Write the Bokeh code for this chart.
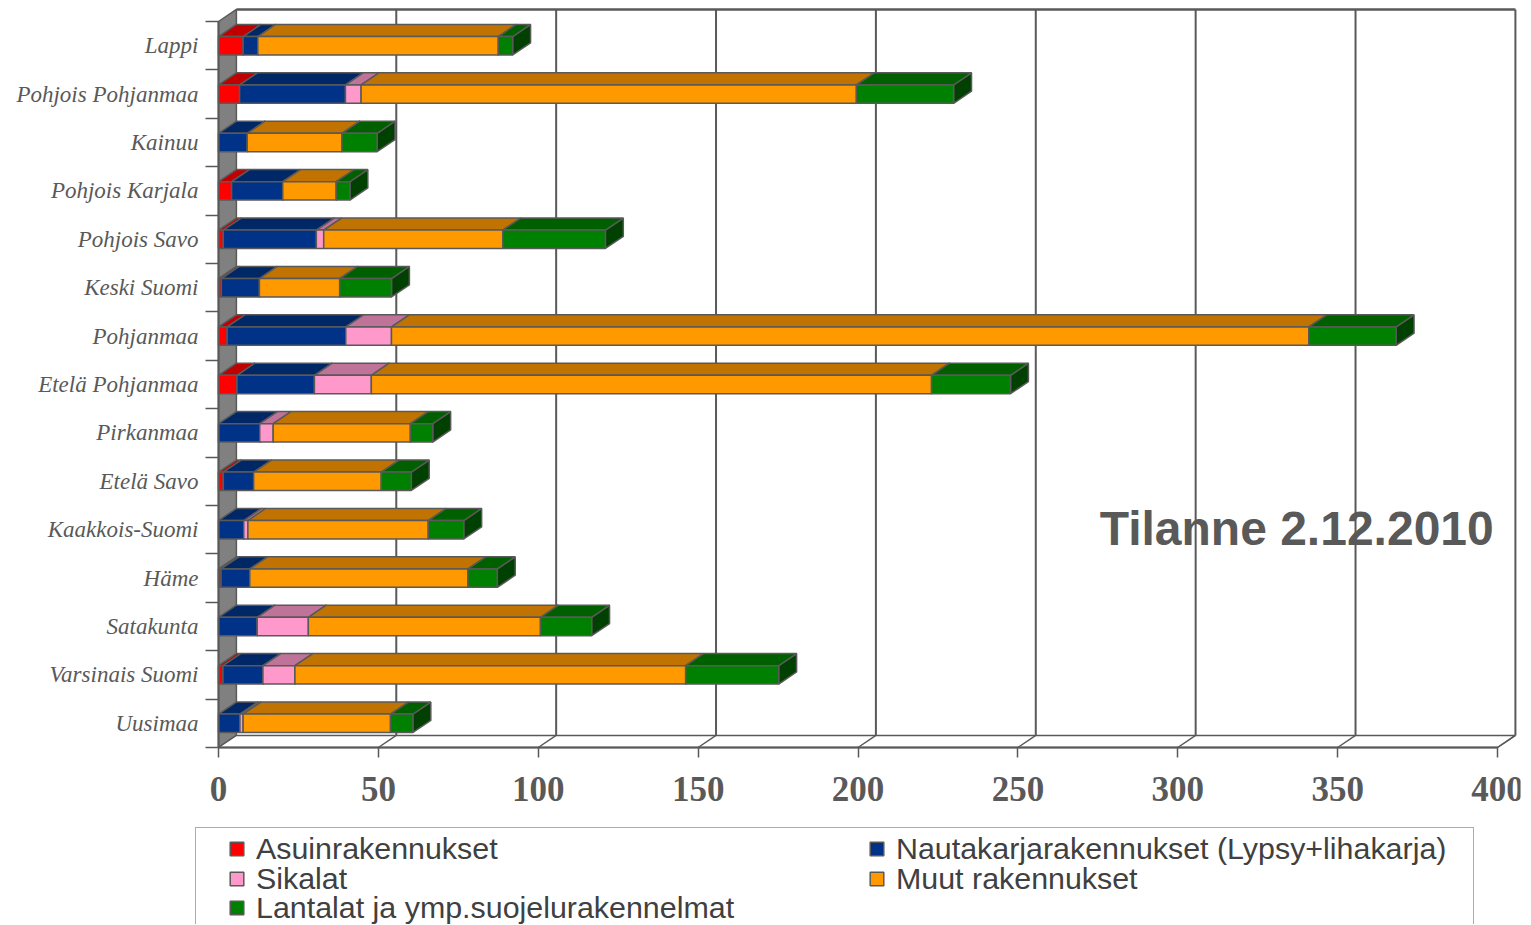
import numpy as np
from bokeh.plotting import figure
from bokeh.models import Range1d, FixedTicker, Label, Legend, LegendItem
from bokeh.embed import file_html
from bokeh.resources import INLINE

# ---------------- data ----------------
categories = ["Lappi", "Pohjois Pohjanmaa", "Kainuu", "Pohjois Karjala", "Pohjois Savo",
              "Keski Suomi", "Pohjanmaa", "Etelä Pohjanmaa", "Pirkanmaa", "Etelä Savo",
              "Kaakkois-Suomi", "Häme", "Satakunta", "Varsinais Suomi", "Uusimaa"]
series_names = ["Asuinrakennukset", "Nautakarjarakennukset (Lypsy+lihakarja)", "Sikalat",
                "Muut rakennukset", "Lantalat ja ymp.suojelurakennelmat"]
asuin = [7.7, 6.6, 0, 4.1, 1.5, 0.9, 2.7, 5.8, 0, 1.5, 0, 0.8, 0, 1.4, 0]
nauta = [4.6, 33.1, 9.0, 16.0, 29.1, 11.9, 37.1, 24.2, 12.9, 9.5, 7.9, 9.0, 12.1, 12.5, 6.7]
sika = [0, 4.9, 0, 0, 2.3, 0, 14.3, 17.8, 4.2, 0, 1.3, 0, 16.0, 10.0, 1.0]
muut = [75.2, 154.9, 29.6, 16.7, 56.0, 25.1, 286.9, 175.2, 42.9, 39.9, 56.4, 68.2, 72.6, 122.2, 46.1]
lanta = [4.5, 30.4, 11.0, 4.3, 32.1, 16.2, 27.3, 24.7, 7.0, 9.4, 11.1, 9.2, 16.0, 29.1, 7.0]
x_ticks = [0, 50, 100, 150, 200, 250, 300, 350, 400]
title_text = "Tilanne 2.12.2010"

# ---------------- style ----------------
front_col = ["#FF0000", "#003388", "#FF99CC", "#FF9900", "#008000"]
top_col = ["#C00000", "#002766", "#C07399", "#C07300", "#006000"]
side_col = ["#800000", "#001A44", "#804D66", "#804D00", "#004000"]
OUT = "#595959"
DX = 5.6      # depth offset (x units)
DY = 0.25     # depth offset (category units)
H = 0.38      # bar thickness
n = len(categories)
xmax = x_ticks[-1]

W, HGT = 1528, 924
PX_X = 3.1975   # pixels per x unit
PX_Y = 48.4     # pixels per category
X0, Y0 = 218, 747   # pixel position of the origin

p = figure(width=W, height=HGT,
           x_range=Range1d(-X0 / PX_X, (W - 8 - X0) / PX_X),
           y_range=Range1d(-(HGT - Y0) / PX_Y, Y0 / PX_Y),
           output_backend="svg", toolbar_location=None,
           min_border_left=0, min_border_right=8, min_border_top=0, min_border_bottom=0)
p.outline_line_color = None
p.grid.visible = False
p.background_fill_color = "white"
p.border_fill_color = "white"

# title text (under the gridlines)
p.add_layout(Label(x=337.2, y=4.52, text=title_text, text_font="Liberation Sans",
                   text_font_style="bold", text_font_size="48px", text_color="#595959",
                   text_align="center", text_baseline="middle", level="underlay"))

# ---------------- 3D frame ----------------
p.patch([0, DX, DX, 0], [0, DY, n + DY, n], fill_color="#808080", line_color=OUT, line_width=1.5)
p.patch([0, xmax, xmax + DX, DX], [0, 0, DY, DY], fill_color="white", line_color=OUT, line_width=1.5)
gx = [t + DX for t in x_ticks[1:]]
p.segment(x0=gx, y0=[DY] * len(gx), x1=gx, y1=[n + DY] * len(gx), line_color=OUT, line_width=2)
p.segment(x0=[DX], y0=[n + DY], x1=[xmax + DX], y1=[n + DY], line_color=OUT, line_width=2.5)
p.segment(x0=x_ticks[1:], y0=[0] * len(gx), x1=gx, y1=[DY] * len(gx), line_color=OUT, line_width=1.5)

# ---------------- bars ----------------
centers = np.array([n - k - 0.5 for k in range(n)])
series = [asuin, nauta, sika, muut, lanta]
cum = np.zeros(n)
front_renderers = []
for s, vals in enumerate(series):
    v = np.array(vals, dtype=float)
    left = cum.copy()
    right = cum + v
    cum = right
    m = v > 0
    l, r, c = left[m], right[m], centers[m]
    b, t = c - H / 2, c + H / 2
    rxs = [[ri, ri + DX, ri + DX, ri] for ri in r]
    rys = [[bi, bi + DY, ti + DY, ti] for bi, ti in zip(b, t)]
    p.patches(rxs, rys, fill_color=side_col[s], line_color=OUT, line_width=1.5)
    txs = [[li, ri, ri + DX, li + DX] for li, ri in zip(l, r)]
    tys = [[ti, ti, ti + DY, ti + DY] for ti in t]
    p.patches(txs, tys, fill_color=top_col[s], line_color=OUT, line_width=1.5)
    fr = p.quad(left=l, right=r, bottom=b, top=t, fill_color=front_col[s],
                line_color=OUT, line_width=1.5)
    front_renderers.append(fr)

# ---------------- axes (placed inside the frame at the origin) ----------------
xa = p.xaxis[0]
xa.fixed_location = 0
xa.ticker = FixedTicker(ticks=x_ticks)
xa.bounds = (0, xmax)
xa.axis_line_color = OUT
xa.axis_line_width = 2
xa.major_tick_out = 10
xa.major_tick_in = 0
xa.major_tick_line_color = OUT
xa.major_tick_line_width = 1.5
xa.minor_tick_line_color = None
xa.major_label_text_font = "Liberation Serif"
xa.major_label_text_font_style = "bold"
xa.major_label_text_font_size = "35px"
xa.major_label_text_color = "#595959"
xa.major_label_standoff = 19

ya = p.yaxis[0]
ya.fixed_location = 0
ya.ticker = FixedTicker(ticks=list(centers), minor_ticks=list(range(n + 1)))
ya.major_label_overrides = {float(cv): name for cv, name in zip(centers, categories)}
ya.bounds = (0, n)
ya.axis_line_color = OUT
ya.axis_line_width = 2
ya.major_tick_out = 0
ya.major_tick_in = 0
ya.minor_tick_out = 13
ya.minor_tick_in = 0
ya.minor_tick_line_color = OUT
ya.minor_tick_line_width = 1.5
ya.major_label_text_font = "Liberation Serif"
ya.major_label_text_font_style = "italic"
ya.major_label_text_font_size = "23px"
ya.major_label_text_color = "#595959"
ya.major_label_standoff = 7

# ---------------- legend ----------------
dummy = p.scatter(x=[], y=[], size=1, fill_alpha=0, line_alpha=0)
box = Legend(items=[LegendItem(label=" ", renderers=[dummy])], location=(195, -6),
             padding=0, margin=0, glyph_width=1, glyph_height=1, label_standoff=0,
             label_width=1276, label_height=101, border_line_color=OUT, border_line_width=1.5,
             background_fill_color="white", background_fill_alpha=1.0,
             label_text_font_size="10px")
p.add_layout(box, "center")

common = dict(padding=0, margin=0, glyph_width=17, glyph_height=17, label_standoff=11,
              label_height=29, spacing=0, border_line_color=None, background_fill_alpha=0,
              label_text_font="Liberation Sans", label_text_font_size="30.4px",
              label_text_color="#404040", label_text_baseline="middle")
# legend entry slots: (left px, row centre px), in reading order
slots = [(228, 849), (868, 849), (228, 879), (868, 879), (228, 908)]
for i, (lx, yc) in enumerate(slots):
    lg = Legend(items=[LegendItem(label=series_names[i], renderers=[front_renderers[i]])],
                location=(lx, HGT - 17 - yc), **common)
    p.add_layout(lg, "center")

open("out.html", "w").write(file_html(p, INLINE))
